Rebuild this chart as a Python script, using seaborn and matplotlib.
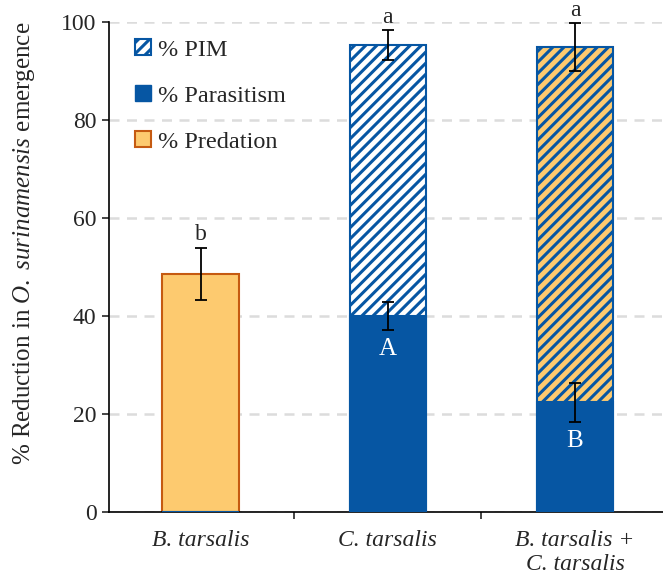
import matplotlib
matplotlib.use('Agg')
import matplotlib.pyplot as plt
import matplotlib.patches as mpatches
import seaborn as sns
import pandas as pd

# data
groups = ['B. tarsalis', 'C. tarsalis', 'B. tarsalis +\nC. tarsalis']
total = [48.6, 95.3, 94.9]          # total reduction (predation for B. tarsalis)
total_err = [5.3, 3.0, 4.8]
parasitism = [0.0, 40.0, 22.4]
parasitism_err = [0.0, 2.8, 4.0]
upper_letters = ['b', 'a', 'a']
lower_letters = ['', 'A', 'B']

blue = '#0656A3'
orange_fill = '#FDCA6F'
orange_edge = '#C55A11'
fs = 17

sns.set_style('white')
plt.rcParams['font.family'] = ['Liberation Serif', 'DejaVu Serif']
plt.rcParams['mathtext.fontset'] = 'custom'
plt.rcParams['mathtext.rm'] = 'Liberation Serif'
plt.rcParams['mathtext.it'] = 'Liberation Serif:italic'
plt.rcParams['hatch.linewidth'] = 2.2

df = pd.DataFrame({'group': groups, 'total': total, 'total_err': total_err,
                   'parasitism': parasitism, 'parasitism_err': parasitism_err})

fig = plt.figure(figsize=(6.63, 5.81), dpi=100)
ax = fig.add_axes([0.1644, 0.1188, 0.8356, 0.8433])

sns.barplot(data=df, x='group', y='total', hue='group',
            palette=[orange_fill, 'white', orange_fill], width=0.41, saturation=1,
            legend=False, ax=ax, zorder=2)
for i, p in enumerate(ax.patches):
    if i == 0:
        p.set_edgecolor(orange_edge)
        p.set_linewidth(1.5)
    else:
        p.set_edgecolor(blue)
        p.set_hatch('///')
        p.set_linewidth(1.5)

sns.barplot(data=df, x='group', y='parasitism', color=blue, width=0.41,
            saturation=1, ax=ax, zorder=3, edgecolor=blue, linewidth=1.5)

# error bars
ax.errorbar(df['group'], df['total'], yerr=df['total_err'], fmt='none',
            ecolor='black', elinewidth=1.3, capsize=4, capthick=1.3, zorder=5)
sub = df[df['parasitism'] > 0]
ax.errorbar(sub['group'], sub['parasitism'], yerr=sub['parasitism_err'], fmt='none',
            ecolor='black', elinewidth=1.3, capsize=4, capthick=1.3, zorder=5)

for i, row in df.iterrows():
    ax.annotate(upper_letters[i], (i, row['total'] + row['total_err']),
                xytext=(0, 2), textcoords='offset points', ha='center', va='bottom',
                fontsize=fs, annotation_clip=False)
    if lower_letters[i]:
        ax.annotate(lower_letters[i], (i, row['parasitism'] - row['parasitism_err']),
                    xytext=(0, -6), textcoords='offset points', ha='center', va='top',
                    fontsize=fs + 1, color='white', zorder=6)

ax.set_ylim(0, 100)
ax.set_xlim(-0.49, 2.47)
ax.set_yticks([0, 20, 40, 60, 80, 100])
ax.set_xticks([0.5, 1.5], minor=True)
ax.yaxis.grid(True, color='#DCDCDC', linestyle=(0, (4, 3)), linewidth=1.8)
ax.set_axisbelow(True)
for s in ['top', 'right']:
    ax.spines[s].set_visible(False)
for s in ['left', 'bottom']:
    ax.spines[s].set_color('black')
    ax.spines[s].set_linewidth(1.2)
ax.tick_params(axis='y', direction='out', length=5, width=1.2, left=True, labelsize=fs, pad=4)
ax.tick_params(axis='x', which='major', length=0, labelsize=fs, pad=13)
ax.tick_params(axis='x', which='minor', direction='out', length=5, width=1.2, bottom=True)
for t in ax.get_xticklabels():
    t.set_fontstyle('italic')
ax.set_xlabel('')
ax.set_ylabel('% Reduction in $\\it{O.\\ surinamensis}$ emergence', fontsize=fs + 1)
ax.yaxis.set_label_coords(-0.13, 0.549)

handles = [
    mpatches.Patch(facecolor='white', edgecolor=blue, hatch='///', linewidth=1.5, label='% PIM'),
    mpatches.Patch(facecolor=blue, edgecolor=blue, label='% Parasitism'),
    mpatches.Patch(facecolor=orange_fill, edgecolor=orange_edge, linewidth=1.5, label='% Predation'),
]
ax.legend(handles=handles, loc='upper left', bbox_to_anchor=(0.03, 0.985), frameon=False,
          fontsize=fs + 0.5, handlelength=0.65, handleheight=0.65, handletextpad=0.3,
          labelspacing=1.0, borderaxespad=0)

fig.savefig('out.png', dpi=100)
